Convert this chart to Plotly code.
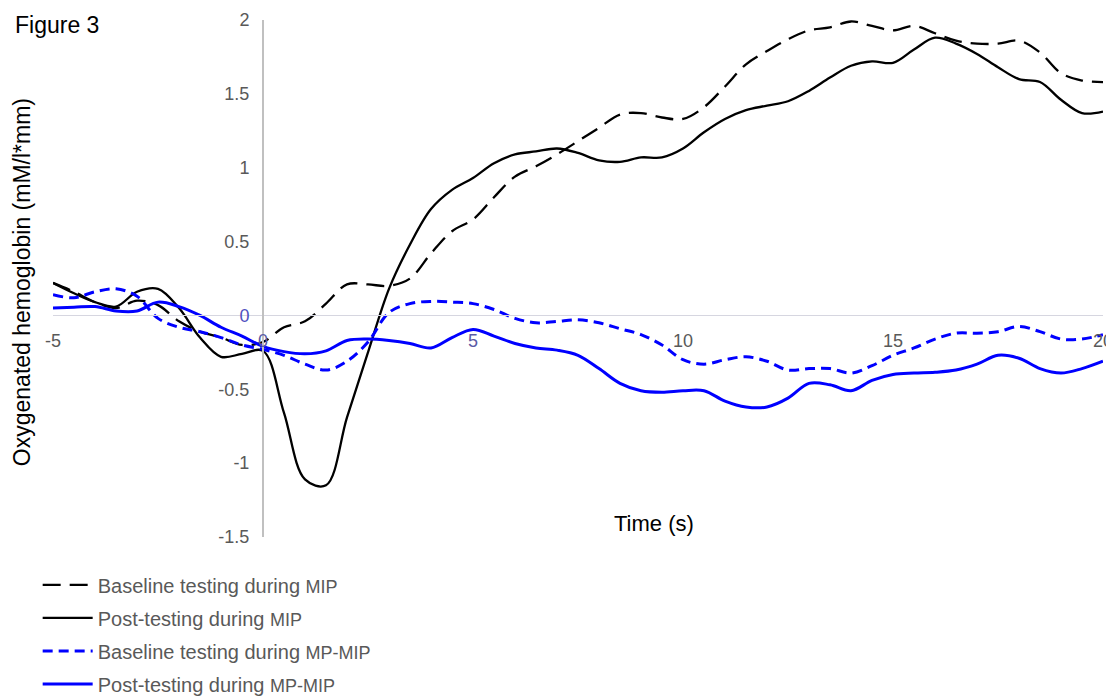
import plotly.graph_objects as go

# Time axis (s)
time_s = [-5, -4.5, -4, -3.5, -3, -2.5, -2, -1.5, -1, -0.5, 0, 0.5, 1, 1.5, 2, 2.5, 3, 3.5, 4, 4.5,
          5, 5.5, 6, 6.5, 7, 7.5, 8, 8.5, 9, 9.5, 10, 10.5, 11, 11.5, 12, 12.5, 13, 13.5, 14, 14.5,
          15, 15.5, 16, 16.5, 17, 17.5, 18, 18.5, 19, 19.5, 20]

baseline_mip = [0.22, 0.16, 0.09, 0.05, 0.10, 0.07, -0.04, -0.11, -0.15, -0.20, -0.18, -0.08, -0.04, 0.08, 0.21,
                0.21, 0.20, 0.25, 0.42, 0.57, 0.65, 0.80, 0.94, 1.01, 1.09, 1.18, 1.27, 1.36, 1.37, 1.34,
                1.33, 1.41, 1.55, 1.70, 1.79, 1.87, 1.93, 1.95, 1.99, 1.96, 1.93, 1.96, 1.91, 1.86, 1.84,
                1.84, 1.86, 1.78, 1.64, 1.59, 1.58]

post_mip = [0.22, 0.15, 0.09, 0.06, 0.16, 0.18, 0.05, -0.15, -0.28, -0.26, -0.24, -0.66, -1.11, -1.15, -0.69,
            -0.25, 0.18, 0.48, 0.72, 0.85, 0.93, 1.03, 1.09, 1.11, 1.13, 1.10, 1.05, 1.04, 1.07, 1.07,
            1.13, 1.24, 1.33, 1.39, 1.42, 1.45, 1.52, 1.61, 1.69, 1.72, 1.71, 1.80, 1.88, 1.84, 1.77,
            1.68, 1.60, 1.58, 1.46, 1.37, 1.38]

baseline_mpmip = [0.14, 0.12, 0.16, 0.18, 0.13, -0.02, -0.08, -0.11, -0.15, -0.20, -0.23, -0.27, -0.33, -0.37, -0.31,
                  -0.18, 0.02, 0.08, 0.095, 0.09, 0.08, 0.04, -0.02, -0.05, -0.04, -0.03, -0.05, -0.09, -0.13, -0.20,
                  -0.30, -0.33, -0.30, -0.28, -0.31, -0.37, -0.36, -0.36, -0.39, -0.34, -0.27, -0.22, -0.16, -0.12, -0.12,
                  -0.11, -0.075, -0.11, -0.16, -0.16, -0.13]

post_mpmip = [0.05, 0.055, 0.06, 0.03, 0.03, 0.09, 0.06, 0.0, -0.08, -0.14, -0.21, -0.245, -0.26, -0.24, -0.17,
              -0.16, -0.17, -0.19, -0.22, -0.15, -0.095, -0.14, -0.19, -0.22, -0.235, -0.27, -0.36, -0.46, -0.51, -0.52,
              -0.51, -0.51, -0.58, -0.62, -0.62, -0.56, -0.46, -0.47, -0.51, -0.44, -0.40, -0.39, -0.385, -0.37, -0.33,
              -0.27, -0.29, -0.36, -0.39, -0.36, -0.31]

x_ticks = [-5, 0, 5, 10, 15, 20]
y_ticks = [-1.5, -1, -0.5, 0, 0.5, 1, 1.5, 2]

FONT = "Liberation Sans, Arial, sans-serif"
GREY = "#595959"
BLUE_LABEL = "#5a5aa6"

x_ticktext = []
for v in x_ticks:
    if v in (0, 5):
        x_ticktext.append(f'<span style="color:{BLUE_LABEL}">{v}</span>')
    else:
        x_ticktext.append(str(v))

y_ticktext = []
for v in y_ticks:
    s = ("%g" % v)
    if v == 0:
        y_ticktext.append(f'<span style="color:#5050c0">{s}</span>')
    else:
        y_ticktext.append(s)

small = lambda t: f'<span style="font-size:18px">{t}</span>'

fig = go.Figure()
fig.add_trace(go.Scatter(x=time_s, y=baseline_mip, mode="lines", name="Baseline testing during " + small("MIP"),
                         line=dict(color="black", width=2.3, dash="18px,9px", shape="spline"),
                         legendgroup="a"))
fig.add_trace(go.Scatter(x=time_s, y=post_mip, mode="lines", name="Post-testing during " + small("MIP"),
                         line=dict(color="black", width=2.3, shape="spline"), legendgroup="b"))
fig.add_trace(go.Scatter(x=time_s, y=baseline_mpmip, mode="lines", name="Baseline testing during " + small("MP-MIP"),
                         line=dict(color="#0000ff", width=3, dash="10px,6px", shape="spline"), legendgroup="c"))
fig.add_trace(go.Scatter(x=time_s, y=post_mpmip, mode="lines", name="Post-testing during " + small("MP-MIP"),
                         line=dict(color="#0000ff", width=3, shape="spline"), legendgroup="d"))

# page body has an 8px margin, so the figure is sized/offset to compensate
fig.update_layout(
    width=1106, height=690,
    margin=dict(l=45, r=11, t=12, b=161, autoexpand=False),
    paper_bgcolor="white", plot_bgcolor="white",
    font=dict(family=FONT, size=18, color=GREY),
    showlegend=True,
    legend=dict(x=-0.0146, y=-0.055, xanchor="left", yanchor="top",
                font=dict(size=20, color=GREY, family=FONT),
                tracegroupgap=4, itemwidth=50, bgcolor="rgba(0,0,0,0)"),
    xaxis=dict(range=[-5, 20], tickvals=x_ticks, ticktext=x_ticktext,
               anchor="free", position=(0 - (-1.5)) / 3.5,
               showline=True, linecolor="#d6d6e0", linewidth=1.3,
               showgrid=False, zeroline=False, ticks="", ticklabelstandoff=9,
               tickfont=dict(size=18, color=GREY, family=FONT)),
    yaxis=dict(range=[-1.5, 2], tickvals=y_ticks, ticktext=y_ticktext,
               anchor="free", position=0.2,
               showline=True, linecolor="#c0c0c0", linewidth=2,
               showgrid=False, zeroline=False, ticks="", ticklabelstandoff=9,
               tickfont=dict(size=18, color=GREY, family=FONT)),
    annotations=[
        dict(text="Figure 3", xref="paper", yref="paper", x=-0.0381, y=0.990,
             xanchor="left", yanchor="middle", showarrow=False,
             font=dict(size=23, color="black", family=FONT)),
        dict(text="Oxygenated hemoglobin (mM/l*mm)", xref="paper", yref="paper",
             x=-0.0295, y=0.493, xanchor="center", yanchor="middle", textangle=-90,
             showarrow=False, font=dict(size=23, color="black", family=FONT)),
        dict(text="Time (s)", xref="paper", yref="paper", x=0.5724, y=0.027,
             xanchor="center", yanchor="middle", showarrow=False,
             font=dict(size=22, color="black", family=FONT)),
    ],
)

fig.write_html("out.html")
